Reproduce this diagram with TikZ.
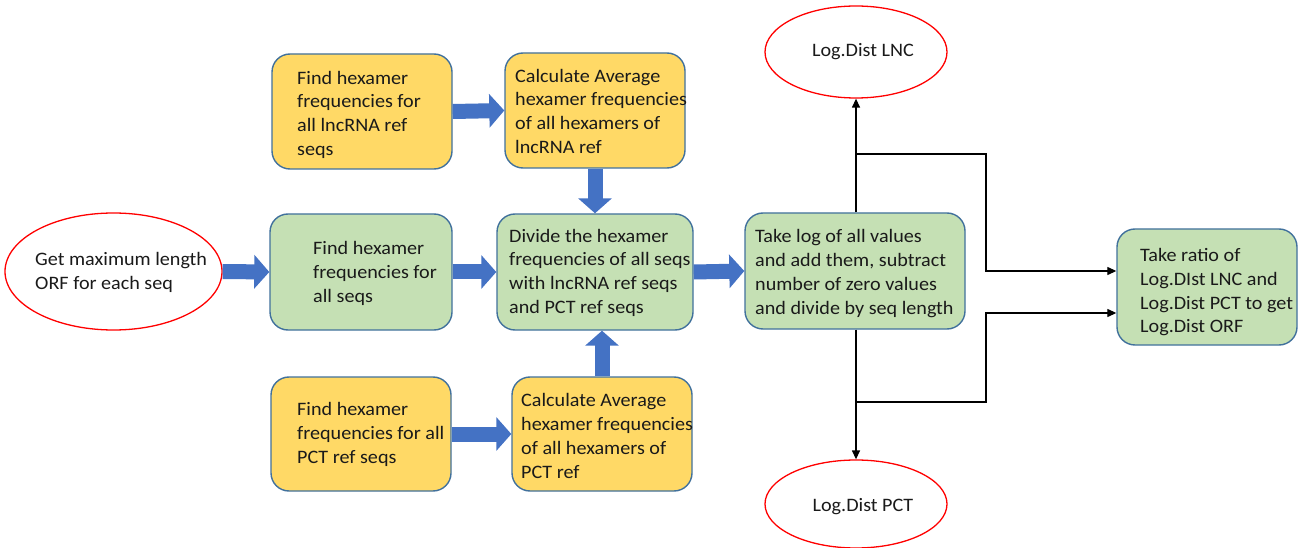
\documentclass[tikz,border=0pt]{standalone}
\usepackage{fontspec}
\setmainfont{Carlito}[FakeStretch=1.06]
\usetikzlibrary{arrows.meta,shapes.geometric}
\definecolor{boxgold}{HTML}{FFD966}
\definecolor{boxgreen}{HTML}{C5E0B4}
\definecolor{boxedge}{HTML}{41719C}
\definecolor{flowblue}{HTML}{4472C4}
\definecolor{inktext}{HTML}{1A1A1A}
\tikzset{
  card/.style={rounded corners=18pt, draw=boxedge, line width=1.4pt, inner sep=0pt},
  goldcard/.style={card, fill=boxgold, minimum width=180pt, minimum height=115pt},
  greencard/.style={card, fill=boxgreen, minimum height=116pt},
  oval/.style={ellipse, draw=red, line width=1.3pt, fill=white, inner sep=0pt},
  txt/.style={inner sep=0pt, align=left, text=inktext,
    font=\fontsize{19pt}{23.8pt}\selectfont},
  bigarrow/.style={draw=flowblue, line width=15pt,
    -{Triangle[width=33pt,length=15pt,fill=flowblue]}},
  thinline/.style={draw=black, line width=1.3pt},
  conn/.style={thinline, -{Triangle[length=9pt,width=8pt]}}
}
\begin{document}
\begin{tikzpicture}[x=1pt,y=-1pt]
\fill[white] (0,0) rectangle (1302,548);
\useasboundingbox (0,0) rectangle (1302,548);

% boxes and ovals
\node[oval, minimum width=217pt, minimum height=117pt] (orf) at (113.5,271.5) {};
\node[goldcard] (lncfind) at (362,111.5) {};
\node[goldcard] (lncavg) at (595,110.5) {};
\node[greencard, minimum width=182pt] (allfind) at (361,272) {};
\node[greencard, minimum width=196pt] (divide) at (595,272) {};
\node[goldcard, minimum height=114pt] (pctfind) at (361,434) {};
\node[goldcard, minimum height=114pt] (pctavg) at (602,434) {};
\node[greencard, minimum width=220pt] (logsum) at (855,271) {};
\node[greencard, minimum width=180pt] (ratio) at (1207,287) {};
\node[oval, minimum width=182pt, minimum height=92pt] (lnc) at (856,52) {};
\node[oval, minimum width=182pt, minimum height=88pt] (pct) at (856,504) {};

% texts (anchored at the baseline of the last line)
\node[txt, anchor=base west] (torf) at (35,289.5) {Get maximum length\\ORF for each seq};
\node[txt, anchor=base west] (tlncfind) at (297,155.5) {Find hexamer\\frequencies for\\all lncRNA ref\\seqs};
\node[txt, anchor=base west] (tlncavg) at (515,153.5) {Calculate Average\\hexamer frequencies\\of all hexamers of\\lncRNA ref};
\node[txt, anchor=base west] (tallfind) at (313,302) {Find hexamer\\frequencies for\\all seqs};
\node[txt, anchor=base west] (tdivide) at (509,313.5) {Divide the hexamer\\frequencies of all seqs\\with lncRNA ref seqs\\and PCT ref seqs};
\node[txt, anchor=base west] (tpctfind) at (297,463) {Find hexamer\\frequencies for all\\PCT ref seqs};
\node[txt, anchor=base west] (tpctavg) at (521,478) {Calculate Average\\hexamer frequencies\\of all hexamers of\\PCT ref};
\node[txt, anchor=base west] (tlog) at (755,314) {Take log of all values\\and add them, subtract\\number of zero values\\and divide by seq length};
\node[txt, anchor=base west] (tratio) at (1140,333) {Take ratio of\\Log.DIst LNC and\\Log.Dist PCT to get\\Log.Dist ORF};
\node[txt, anchor=base] (tlnc) at (863,57) {Log.Dist LNC};
\node[txt, anchor=base] (tpct) at (863,511) {Log.Dist PCT};

% block arrows
\draw[bigarrow] (orf.east) -- (allfind.west);
\draw[bigarrow] (allfind.east) -- (divide.west);
\draw[bigarrow] (divide.east) -- (logsum.west);
\draw[bigarrow] (lncfind.east) -- (lncavg.west);
\draw[bigarrow] (pctfind.east) -- (pctavg.west);
\draw[bigarrow] (lncavg.south) -- (divide.north);
\draw[bigarrow] (pctavg.north) -- (pctavg.north |- divide.south);

% line connectors
\coordinate (jtop) at (856,154);
\coordinate (ktop) at (986,271);
\coordinate (jbot) at (856,402);
\coordinate (kbot) at (986,313);
\draw[conn] (logsum.north -| lnc.south) -- (lnc.south);
\draw[conn] (logsum.south -| pct.north) -- (pct.north);
\draw[conn] (jtop) -| (ktop) -- (ktop -| ratio.west);
\draw[conn] (jbot) -| (kbot) -- (kbot -| ratio.west);
\end{tikzpicture}
\end{document}
